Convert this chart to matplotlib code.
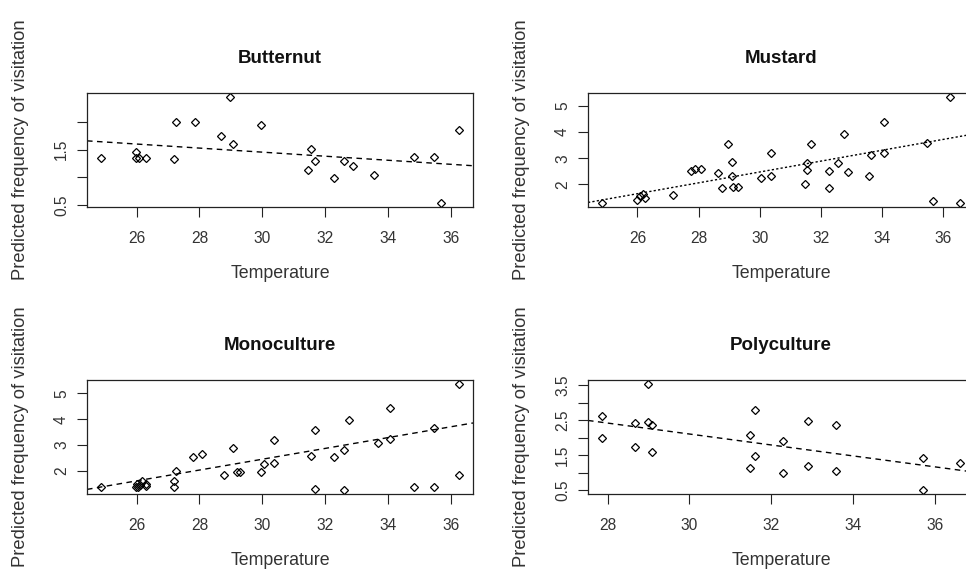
import matplotlib
matplotlib.use("Agg")
import matplotlib.pyplot as plt

plt.rcParams['font.family'] = ['Liberation Sans', 'DejaVu Sans']

# ---------------- data ----------------
titles = ["Butternut", "Mustard", "Monoculture", "Polyculture"]

bt_temp = [24.88, 25.98, 25.98, 26.08, 26.30, 27.18, 27.26, 27.87, 28.67, 28.97, 29.07, 29.97,
           31.45, 31.56, 31.68, 32.28, 32.58, 32.89, 33.56, 34.83, 35.44, 35.67, 36.24]
bt_vis = [1.35, 1.46, 1.35, 1.35, 1.35, 1.33, 2.00, 2.00, 1.74, 2.45, 1.61, 1.95,
          1.14, 1.52, 1.29, 0.98, 1.29, 1.20, 1.05, 1.37, 1.37, 0.54, 1.85]

mu_temp = [24.85, 25.98, 26.09, 26.18, 26.26, 27.18, 27.76, 27.88, 28.08, 28.65, 28.77, 28.96,
           29.08, 29.08, 29.14, 29.28, 30.04, 30.36, 30.36, 31.48, 31.55, 31.55, 31.68, 32.26,
           32.26, 32.56, 32.76, 32.88, 33.58, 33.64, 34.07, 34.07, 35.47, 35.68, 36.24, 36.55]
mu_vis = [1.30, 1.41, 1.54, 1.63, 1.47, 1.60, 2.51, 2.60, 2.60, 2.43, 1.85, 3.53,
          2.85, 2.33, 1.92, 1.92, 2.24, 3.20, 2.33, 2.03, 2.81, 2.55, 3.55, 2.51,
          1.87, 2.80, 3.92, 2.47, 2.33, 3.12, 4.37, 3.20, 3.60, 1.38, 5.33, 1.30]

mo_temp = [24.88, 25.98, 26.03, 26.05, 26.10, 26.18, 26.30, 26.30, 27.18, 27.18, 27.26, 27.79,
           28.08, 28.77, 29.07, 29.18, 29.28, 29.97, 30.05, 30.36, 30.36, 31.56, 31.68, 31.68,
           32.28, 32.58, 32.58, 32.76, 33.66, 34.05, 34.05, 34.83, 35.44, 35.44, 36.24, 36.24]
mo_vis = [1.35, 1.35, 1.48, 1.38, 1.45, 1.60, 1.40, 1.47, 1.61, 1.35, 2.00, 2.55,
          2.64, 1.84, 2.87, 1.96, 1.96, 1.94, 2.26, 3.20, 2.31, 2.59, 3.60, 1.30,
          2.55, 2.82, 1.26, 3.98, 3.09, 3.25, 4.45, 1.35, 3.65, 1.35, 5.36, 1.84]

po_temp = [27.87, 27.87, 28.68, 28.68, 28.99, 28.99, 29.08, 29.08, 31.48, 31.48, 31.60,
           31.60, 32.29, 32.29, 32.89, 32.89, 33.59, 33.59, 35.71, 35.71, 36.60]
po_vis = [2.61, 1.99, 2.43, 1.72, 3.53, 2.44, 2.35, 1.59, 2.07, 1.12, 2.78,
          1.49, 1.90, 0.98, 2.47, 1.18, 2.35, 1.05, 1.42, 0.51, 1.28]

# fitted trend lines (intercept, slope)
trend_intercept = [2.557, -3.738, -3.862, 6.806]
trend_slope = [-0.0367, 0.2071, 0.2103, -0.1567]
trend_style = ["dashed", "dotted", "dashed", "dashed"]

x_ticks = [[26, 28, 30, 32, 34, 36], [26, 28, 30, 32, 34, 36],
           [26, 28, 30, 32, 34, 36], [28, 30, 32, 34, 36]]
y_ticks = [[0.5, 1.0, 1.5, 2.0], [2, 3, 4, 5], [2, 3, 4, 5],
           [0.5, 1.0, 1.5, 2.0, 2.5, 3.0, 3.5]]
y_ticklabels = [["0.5", "", "1.5", ""], ["2", "3", "4", "5"], ["2", "3", "4", "5"],
                ["0.5", "", "1.5", "", "2.5", "", "3.5"]]

xlabel = "Temperature"
ylabel = "Predicted frequency of visitation"

temps = [bt_temp, mu_temp, mo_temp, po_temp]
vis = [bt_vis, mu_vis, mo_vis, po_vis]

# ---------------- layout ----------------
W, H = 966, 569
fig = plt.figure(figsize=(W / 100, H / 100), dpi=100)
fig.patch.set_facecolor("white")

box_w, box_h = 386, 114
lefts = [87, 588, 87, 588]
tops = [93, 93, 380, 380]

dash_patterns = {"dashed": (0, (4.0, 3.2)), "dotted": (0, (1.6, 1.6))}

for i in range(4):
    l, t = lefts[i], tops[i]
    ax = fig.add_axes([l / W, 1 - (t + box_h) / H, box_w / W, box_h / H])
    x = temps[i]
    y = vis[i]
    ax.plot(x, y, linestyle="none", marker="D", markersize=3.9,
            markerfacecolor="none", markeredgecolor="black", markeredgewidth=0.9)
    xr = max(x) - min(x)
    yr = max(y) - min(y)
    ax.set_xlim(min(x) - 0.04 * xr, max(x) + 0.04 * xr)
    ax.set_ylim(min(y) - 0.04 * yr, max(y) + 0.04 * yr)
    ax.axline((0, trend_intercept[i]), slope=trend_slope[i], color="black",
              linewidth=1.0, linestyle=dash_patterns[trend_style[i]])

    ax.set_xticks(x_ticks[i])
    ax.set_xticklabels([str(v) for v in x_ticks[i]])
    ax.set_yticks(y_ticks[i])
    ax.set_yticklabels(y_ticklabels[i], rotation=90, va="center")
    ax.tick_params(axis="both", direction="out", length=7, width=0.8,
                   colors="#222222", labelsize=11.2)
    ax.tick_params(axis="x", pad=10)
    ax.tick_params(axis="y", pad=6)
    for s in ax.spines.values():
        s.set_linewidth(0.9)
        s.set_color("#222222")
    for lbl in ax.get_xticklabels() + ax.get_yticklabels():
        lbl.set_color("#333333")

    cx = (l + box_w / 2) / W
    fig.text(cx, 1 - (t - 30) / H, titles[i], ha="center", va="baseline",
             fontsize=13.5, fontweight="bold", color="#111111")
    fig.text(cx, 1 - (t + box_h + 71) / H, xlabel, ha="center", va="baseline",
             fontsize=12.8, color="#333333")
    fig.text((l - 66) / W, 1 - (t + box_h / 2) / H, ylabel, ha="center", va="center",
             rotation=90, fontsize=13.2, color="#333333")

fig.savefig("out.png", dpi=100, facecolor="white")
